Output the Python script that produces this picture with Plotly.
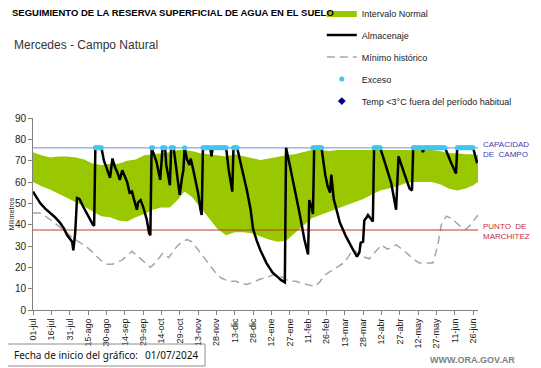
import plotly.graph_objects as go

# ---------------- DATA ----------------
tick_labels = ["01-jul", "16-jul", "31-jul", "15-ago", "30-ago", "14-sep", "29-sep",
               "14-oct", "29-oct", "13-nov", "28-nov", "13-dic", "28-dic", "12-ene",
               "27-ene", "11-feb", "26-feb", "13-mar", "28-mar", "12-abr", "27-abr",
               "12-may", "27-may", "11-jun", "26-jun"]
tick_days = [0, 15, 30, 45, 60, 75, 90, 105, 120, 135, 150, 165, 180, 195, 210,
             225, 240, 255, 270, 285, 300, 315, 330, 345, 360]

capacidad_campo = 76
punto_marchitez = 37.5

band_days = [0, 7, 14, 21, 28, 35, 42, 49, 56, 63, 70, 77, 84, 91, 98, 105, 112, 119,
             124, 130, 137, 144, 151, 158, 165, 172, 179, 186, 193, 200, 207, 214, 221,
             228, 235, 242, 249, 256, 263, 270, 277, 284, 291, 298, 305, 312, 319, 326,
             333, 340, 347, 354, 360, 364]
band_upper = [74, 72.5, 71.5, 72, 72, 71.5, 70.5, 68.5, 68, 68.5, 68.5, 70, 70.5, 72.5,
              73, 73.5, 74, 75, 75, 74.5, 73.5, 73, 72.5, 72, 73, 72, 71, 70.3, 71,
              71.9, 72.5, 73, 74, 75, 75, 74.5, 75, 75, 75, 75, 75, 75, 75, 75, 75, 75,
              75.3, 75, 74.5, 73.5, 73.5, 73, 73, 72.5]
band_lower = [60, 58, 56.5, 54.5, 52.5, 50.5, 48.5, 46, 44, 43.5, 42, 41.5, 43.5, 45,
              47, 48, 48, 52, 55.5, 53, 48, 43, 38, 35, 36.5, 36.5, 36, 34.5, 33, 32,
              32.5, 36, 39.5, 43, 44.5, 46, 47.5, 49, 50.5, 52, 54, 56, 57, 58, 59.5,
              60, 60, 60, 59, 57, 56, 57, 58.5, 60]

alm_days = [0, 3, 6, 10, 14, 18, 22, 25, 28, 30, 32, 33, 34.5, 36, 38, 41, 45, 49, 50,
            51, 56, 58, 60, 63, 65, 67, 69, 71, 73, 75, 77, 79, 81, 83, 85, 86, 88, 90,
            93, 95, 96, 97, 99, 101, 104, 106, 108, 109, 112, 113, 115, 118, 120, 122,
            123, 124, 126, 128, 129, 131, 133, 135, 137, 138, 139, 145, 146, 147, 158,
            160, 163, 164, 167, 169, 171, 175, 178, 180, 183, 186, 191, 196, 200, 203,
            206, 207, 210, 213, 218, 222, 225, 226, 228, 229, 230, 236, 239, 241, 243,
            244, 246, 251, 256, 262, 265, 267, 268, 270, 271, 273, 274, 276, 278, 279,
            284, 289, 293, 297, 299, 304, 308, 310, 311, 318, 319, 320, 337, 342, 346,
            347, 360, 363, 364]
alm_vals = [55.5, 52.5, 50, 47.5, 45.5, 43.5, 41, 38.5, 35, 33.5, 32, 28, 36, 52.5, 52,
            48.5, 44, 40, 39.5, 76, 76, 70, 67, 62, 71, 67, 64.5, 61, 65.5, 63, 60, 55,
            55.5, 51, 47, 50.5, 51.5, 48.5, 42.5, 36, 35, 76, 73, 69.5, 61, 76, 76, 68,
            58.5, 76, 76, 64, 54, 62.5, 65.5, 76, 70.5, 68, 71, 66, 60, 55, 47, 44.5, 76,
            76, 72, 76, 76, 66, 55.5, 76, 76, 71, 67, 56, 47, 38, 32.5, 28, 22, 17.5,
            15.5, 14, 13, 76, 68, 60, 45.5, 33, 26, 51.5, 48, 45, 76, 76, 63.5, 58, 55,
            63.5, 52, 41, 34.5, 28, 25, 27, 31.5, 32, 42, 43.5, 44.5, 43, 41.5, 76, 76,
            67, 59.5, 47, 72, 63.5, 57, 56, 76, 76, 74, 76, 76, 69, 64, 76, 76, 69.5, 70]

min_days = [0, 5, 9, 14, 19, 23, 27, 31, 36, 40, 44, 48, 52, 56, 60, 65, 69, 73, 77,
            81, 84, 88, 92, 96, 99, 102, 106, 108, 111, 114, 118, 122, 126, 130, 134,
            138, 142, 146, 150, 154, 158, 162, 166, 170, 175, 180, 186, 192, 197, 202,
            206, 210, 215, 220, 226, 231, 235, 239, 243, 248, 254, 258, 262, 266, 270,
            275, 280, 285, 290, 297, 302, 307, 312, 316, 322, 327, 331, 334, 338, 342,
            346, 350, 354, 358, 362, 364]
min_vals = [45.5, 45.5, 44.5, 42.5, 40.5, 38.5, 36.5, 34.5, 32.5, 31, 29.5, 27.5, 25,
            23, 21.5, 21.5, 22.5, 23.5, 25.5, 27.5, 26, 24, 22, 20, 21.5, 23.5, 26.5, 26,
            24.5, 27, 30, 32, 33, 32, 29, 26, 22.5, 19.5, 17, 15, 14, 13.5, 13.5, 12.5,
            12, 13, 14.5, 15.5, 16.5, 16, 14.5, 13.5, 13.5, 12.5, 11.5, 11, 13.5, 16.5,
            18, 20, 22, 25, 28.5, 26.5, 25, 24, 27.5, 30.5, 28.5, 30.5, 28.5, 26, 23.5,
            22, 22, 22, 30, 40, 44, 43, 41, 39, 37.8, 40, 43, 44.5]

exceso_days = [51, 52, 53, 54, 55, 56, 97, 98, 106, 107, 108, 113, 114, 115, 124,
               139, 140, 141, 142, 143, 144, 145, 147, 148, 149, 150, 151, 152, 153,
               154, 155, 156, 157, 158, 164, 165, 166, 167, 229, 230, 231, 232, 233,
               234, 235, 236, 279, 280, 281, 282, 283, 284, 311, 312, 313, 314, 315,
               316, 317, 318, 320, 321, 322, 323, 324, 325, 326, 327, 328, 329, 330,
               331, 332, 333, 334, 335, 336, 337, 347, 348, 349, 350, 351, 352, 353,
               354, 355, 356, 357, 358, 359, 360]

x_end = 364
FONT = "Liberation Sans"

# ---------------- FIGURE ----------------
fig = go.Figure()

fig.add_trace(go.Scatter(x=band_days, y=band_lower, mode="lines", line=dict(width=0),
                         showlegend=False, hoverinfo="skip"))
fig.add_trace(go.Scatter(x=band_days, y=band_upper, mode="lines", line=dict(width=0),
                         fill="tonexty", fillcolor="#99C800", name="Intervalo Normal",
                         legendgroup="a", legendrank=1))
fig.add_trace(go.Scatter(x=min_days, y=min_vals, mode="lines",
                         line=dict(color="#A6A6A6", width=1.5, dash="8px,5px"),
                         name="Mínimo histórico", legendgroup="c", legendrank=3))
fig.add_trace(go.Scatter(x=[0, x_end], y=[capacidad_campo, capacidad_campo], mode="lines",
                         line=dict(color="#7090D8", width=1), showlegend=False,
                         hoverinfo="skip"))
fig.add_trace(go.Scatter(x=[0, x_end], y=[punto_marchitez, punto_marchitez], mode="lines",
                         line=dict(color="#C0392B", width=1), showlegend=False,
                         hoverinfo="skip"))
fig.add_trace(go.Scatter(x=alm_days, y=alm_vals, mode="lines",
                         line=dict(color="#000000", width=2.5),
                         name="Almacenaje", legendgroup="b", legendrank=2))
fig.add_trace(go.Scatter(x=exceso_days, y=[capacidad_campo] * len(exceso_days),
                         mode="markers", marker=dict(color="#3CC8F0", size=5, symbol="circle"),
                         name="Exceso", legendgroup="d", legendrank=4))
fig.add_trace(go.Scatter(x=[None], y=[None], mode="markers",
                         marker=dict(color="#00008B", size=6, symbol="diamond"),
                         name="Temp <3°C fuera del período habitual", legendgroup="e",
                         legendrank=5))

# page body adds an 8px margin, so the figure is 8px smaller than the window
fig.update_layout(
    width=533, height=360,
    margin=dict(l=25, r=63, t=110, b=58, autoexpand=False),
    paper_bgcolor="white", plot_bgcolor="white",
    font=dict(family=FONT, size=10, color="#222222"),
    showlegend=True,
    legend=dict(x=0.649, xanchor="left", y=1.622, yanchor="top",
                traceorder="grouped", tracegroupgap=3,
                font=dict(family=FONT, size=9, color="#222222"),
                bgcolor="rgba(0,0,0,0)", itemwidth=30),
    xaxis=dict(range=[0, x_end], tickmode="array", tickvals=tick_days,
               ticktext=tick_labels, tickangle=-90, ticks="outside", ticklen=4,
               tickcolor="#808080", showline=True, linecolor="#808080", linewidth=1,
               showgrid=False, zeroline=False, automargin=False,
               tickfont=dict(size=9, color="#222222")),
    yaxis=dict(range=[0, 90], dtick=10, ticks="outside", ticklen=4,
               tickcolor="#808080", showline=True, linecolor="#808080", linewidth=1,
               showgrid=False, zeroline=False, automargin=False,
               tickfont=dict(size=10, color="#222222"),
               title=dict(text="Milímetros", font=dict(size=7, color="#222222"),
                          standoff=4)),
)

# positions given in reference-window pixels; mapped to paper coords of the plot area
anns = [
    dict(text="<b>SEGUIMIENTO DE LA RESERVA SUPERFICIAL DE AGUA EN EL SUELO</b>",
         x=10, y=12, font=dict(size=9.5, color="#000000")),
    dict(text="Mercedes - Campo Natural", x=12, y=45, font=dict(size=12, color="#333333")),
    dict(text="CAPACIDAD<br>DE  CAMPO", x=481, y=149, font=dict(size=8, color="#4040B0")),
    dict(text="PUNTO  DE<br>MARCHITEZ", x=481, y=231, font=dict(size=8, color="#C03040")),
    dict(text="<b>WWW.ORA.GOV.AR</b>", x=428, y=360, font=dict(size=9, color="#808080")),
    dict(text="Fecha de inicio del gráfico:", x=12, y=355,
         font=dict(family="Noto Sans", size=10, color="#111111")),
    dict(text="01/07/2024", x=143, y=355,
         font=dict(family="Noto Sans", size=10, color="#111111")),
]
for a in anns:
    fig.add_annotation(xref="paper", yref="paper", xanchor="left", yanchor="middle",
                       showarrow=False, align="left",
                       x=(a["x"] - 33) / 445, y=(310 - a["y"]) / 192,
                       text=a["text"], font=a["font"])

fig.add_shape(type="rect", xref="paper", yref="paper",
              x0=(5 - 33) / 445, x1=(205 - 33) / 445,
              y0=(310 - 344) / 192, y1=(310 - 366) / 192,
              line=dict(color="#9A8A8A", width=1), fillcolor="rgba(0,0,0,0)")

fig.write_html("out.html")
